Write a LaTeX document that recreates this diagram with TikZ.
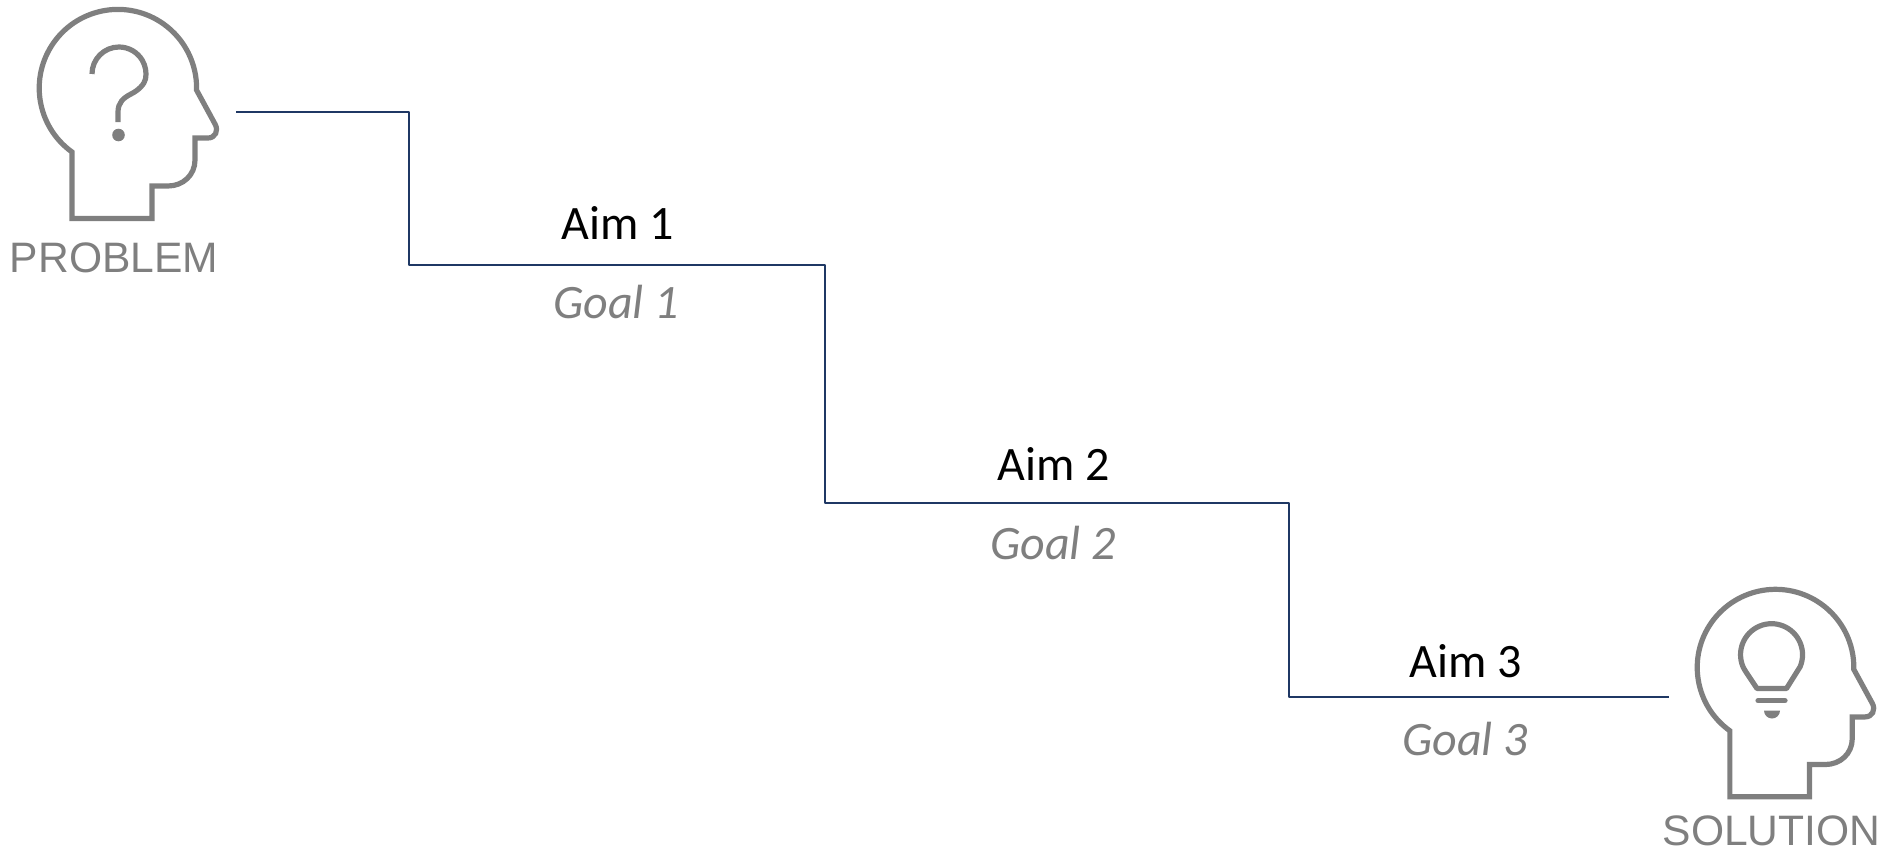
\documentclass[tikz,border=0pt]{standalone}
\usepackage{fontspec}
\setmainfont{Carlito}
\newfontfamily\arialf{Liberation Sans}
\definecolor{iconGray}{HTML}{7F7F7F}
\definecolor{stairBlue}{HTML}{1F3864}
\tikzset{
  headline/.style={draw=iconGray,line width=5.2pt},
  stair/.style={draw=stairBlue,line width=2pt,line join=round},
  aimtext/.style={anchor=base,inner sep=0pt,text=black,font=\fontsize{48}{56}\selectfont},
  goaltext/.style={anchor=base,inner sep=0pt,text=iconGray,font=\fontsize{48}{56}\selectfont\itshape},
  icontext/.style={anchor=base,inner sep=0pt,text=iconGray,font=\arialf\fontsize{42.6}{50}\selectfont},
  headicon/.pic={
    \draw[headline] (72,218.5) -- (72,152) arc[start angle=125.7,end angle=361.5,radius=78.7]
      -- (215,124) .. controls (219,131) and (215,138) .. (208,138) -- (195,138) -- (195,160)
      .. controls (195,175) and (183,186) .. (168,186) -- (152,186) -- (152,218.5) -- cycle;
  }
}
\begin{document}
\begin{tikzpicture}[x=1pt,y=-1pt]
\useasboundingbox (0,0) rectangle (1880,851);
% heads
\pic at (0,0) {headicon};
\pic[xscale=0.995,yscale=0.992] at (1658.2,580) {headicon};
% question mark
\draw[headline] (92,74) arc[start angle=180,end angle=370,radius=27]
  .. controls (144.5,84) and (139,90) .. (131,94) .. controls (123,98) and (118,103) .. (118,112) -- (118,122);
\fill[iconGray] (118.5,135) circle[radius=6.3];
% light bulb
\draw[headline,line join=round] (1757,688.5) -- (1746,672) .. controls (1744,669) and (1743.2,667) .. (1743,666.8)
  arc[start angle=157,end angle=383,radius=31] -- (1786.5,688.5) -- cycle;
\draw[headline,line cap=round] (1758,700.7) -- (1785,700.7);
\fill[iconGray] (1764,710.5) -- (1780,710.5) arc[start angle=0,end angle=180,radius=8] -- cycle;
% stairs
\coordinate (s0) at (236,112);
\coordinate (s1) at (409,112);
\coordinate (s2) at (409,265);
\coordinate (s3) at (825,265);
\coordinate (s4) at (825,502.5);
\coordinate (s5) at (1289,502.5);
\coordinate (s6) at (1289,696.5);
\coordinate (s7) at (1669,696.5);
\draw[stair] (s0) -- (s1) -- (s2) -- (s3) -- (s4) -- (s5) -- (s6) -- (s7);
% labels
\node[icontext] (problem) at (114,272.7) {PROBLEM};
\node[icontext] (solution) at (1771.5,845.5) {SOLUTION};
\node[aimtext] (aim1) at (617.5,239.5) {Aim 1};
\node[goaltext] (goal1) at (616,318) {Goal 1};
\node[aimtext] (aim2) at (1054,480.5) {Aim 2};
\node[goaltext] (goal2) at (1053,559) {Goal 2};
\node[aimtext] (aim3) at (1465.5,677) {Aim 3};
\node[goaltext] (goal3) at (1465,755.6) {Goal 3};
\end{tikzpicture}
\end{document}
